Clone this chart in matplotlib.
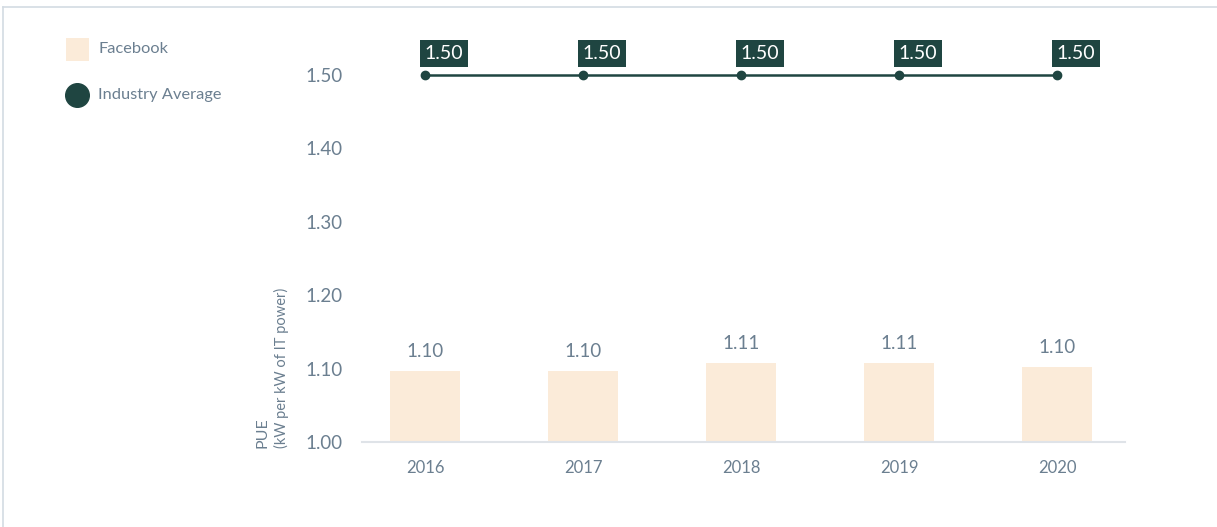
import matplotlib
matplotlib.use('Agg')
import matplotlib.pyplot as plt
from matplotlib.lines import Line2D

plt.rcParams['font.family'] = ['Lato', 'DejaVu Sans']

years = ['2016', '2017', '2018', '2019', '2020']
facebook_pue = [1.097, 1.097, 1.108, 1.108, 1.102]
industry_pue = [1.50, 1.50, 1.50, 1.50, 1.50]
y_ticks = [1.00, 1.10, 1.20, 1.30, 1.40, 1.50]

BAR = '#fbebd9'
DARK = '#1f4541'
TEXT = '#6b7f90'
AXIS = '#dfe3e8'

fig = plt.figure(figsize=(12.17, 5.27), dpi=100)
ax = fig.add_axes([362 / 1217, 85 / 527, (1125 - 362) / 1217, 403.7 / 527])

x = list(range(len(years)))
ax.bar(x, facebook_pue, width=0.443, bottom=0, color=BAR, zorder=1)
ax.plot(x, industry_pue, color=DARK, lw=1.8, marker='o', markersize=6, zorder=3)

for xi, v in zip(x, facebook_pue):
    ax.annotate(f'{v:.2f}', (xi, v), xytext=(0, 8), textcoords='offset points',
                ha='center', va='bottom', fontsize=13.5, color=TEXT)

for xi, v in zip(x, industry_pue):
    ax.annotate(f'{v:.2f}', (xi, v), xytext=(-0.5, 9.5), textcoords='offset points',
                ha='left', va='bottom', fontsize=14, color='white',
                bbox=dict(boxstyle='square,pad=0.25', fc=DARK, ec='none'))

ax.set_xlim(-0.4, 4.43)
ax.set_ylim(1.0, 1.55)
ax.set_yticks(y_ticks)
ax.set_yticklabels([f'{t:.2f}' for t in y_ticks])
ax.set_xticks(x)
ax.set_xticklabels(years)
ax.tick_params(axis='y', length=0, pad=14, labelsize=13.5, labelcolor=TEXT)
ax.tick_params(axis='x', length=0, pad=13, labelsize=12, labelcolor=TEXT)
for s in ['top', 'right', 'left']:
    ax.spines[s].set_visible(False)
ax.spines['bottom'].set_color(AXIS)
ax.spines['bottom'].set_linewidth(1.5)

fig.text(262 / 1217, 1 - 448 / 527, 'PUE', rotation=90, ha='center', va='bottom',
         fontsize=11.5, color=TEXT)
fig.text(281 / 1217, 1 - 448 / 527, '(kW per kW of IT power)', rotation=90,
         ha='center', va='bottom', fontsize=10.5, color=TEXT)

# legend
fig.patches.append(plt.Rectangle((66 / 1217, 1 - 61 / 527), 23 / 1217, 23 / 527,
                                 transform=fig.transFigure, fc=BAR, ec='none'))
fig.add_artist(Line2D([77 / 1217], [1 - 95 / 527], marker='o', markersize=17,
                      color=DARK, transform=fig.transFigure))
fig.text(98 / 1217, 1 - 49 / 527, 'Facebook', ha='left', va='center', fontsize=11.8, color=TEXT)
fig.text(98 / 1217, 1 - 95 / 527, 'Industry Average', ha='left', va='center', fontsize=11.8, color=TEXT)

# frame border
fig.add_artist(Line2D([3 / 1217, 3 / 1217], [0, 1 - 7 / 527], color='#d3dbe3', lw=1.2,
                      transform=fig.transFigure))
fig.add_artist(Line2D([3 / 1217, 1], [1 - 7 / 527, 1 - 7 / 527], color='#d3dbe3', lw=1.2,
                      transform=fig.transFigure))

fig.savefig('out.png', dpi=100)
